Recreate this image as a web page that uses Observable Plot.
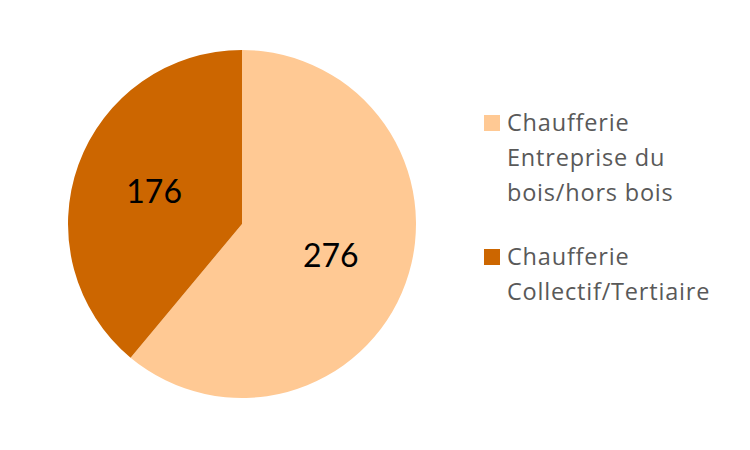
<!DOCTYPE html>
<html>
<head>
<meta charset="utf-8">
<script src="https://cdn.jsdelivr.net/npm/d3@7"></script>
<script src="https://cdn.jsdelivr.net/npm/@observablehq/plot@0.6"></script>
<style>
  html, body { margin: 0; padding: 0; background: #fff; }
  #wrap { position: relative; width: 750px; height: 450px; font-family: Lato, "Open Sans", sans-serif; }
  #legend { position: absolute; left: 484px; top: 105px; color: #595959; font-family: "Open Sans", sans-serif; font-size: 23.5px; letter-spacing: 0.8px; line-height: 35px; }
  .item { display: flex; align-items: flex-start; margin-bottom: 29px; }
  .sw { width: 16px; height: 16px; margin-top: 10px; margin-right: 7px; flex: none; }
</style>
</head>
<body>
<div id="wrap"></div>
<script>
const categories = ["Chaufferie Entreprise du bois/hors bois", "Chaufferie Collectif/Tertiaire"];
const values = [276, 176];
const colors = ["#FFC994", "#CC6600"];
const legendLines = [["Chaufferie", "Entreprise du", "bois/hors bois"], ["Chaufferie", "Collectif/Tertiaire"]];

const data = categories.map((c, i) => ({category: c, value: values[i]}));
const arcs = d3.pie().sort(null).value(d => d.value)(data);
const color = d3.scaleOrdinal(categories, colors);
const labelR = 0.54;

function pieMark(index, scales) {
  const cx = scales.x(0), cy = scales.y(0), r = scales.x(1) - scales.x(0);
  const g = d3.create("svg:g").attr("transform", `translate(${cx},${cy})`);
  g.selectAll("path").data(arcs).join("path")
    .attr("d", d3.arc().innerRadius(0).outerRadius(r))
    .attr("fill", d => color(d.data.category));
  return g.node();
}

const mid = d => (d.startAngle + d.endAngle) / 2;

const plot = Plot.plot({
  width: 750,
  height: 450,
  margin: 0,
  x: {domain: [-1, 1], range: [68, 416], axis: null},
  y: {domain: [-1, 1], range: [398, 50], axis: null},
  marks: [
    pieMark,
    Plot.text(arcs, {
      x: d => labelR * Math.sin(mid(d)),
      y: d => labelR * Math.cos(mid(d)),
      text: d => String(d.data.value),
      fill: "#000",
      fontSize: 32,
      fontFamily: "Lato, 'Open Sans', sans-serif"
    })
  ]
});

const wrap = document.getElementById("wrap");
wrap.appendChild(plot);

const legend = document.createElement("div");
legend.id = "legend";
categories.forEach((c, i) => {
  const item = document.createElement("div");
  item.className = "item";
  const sw = document.createElement("div");
  sw.className = "sw";
  sw.style.background = color(c);
  const txt = document.createElement("div");
  txt.innerHTML = legendLines[i].join("<br>");
  item.appendChild(sw);
  item.appendChild(txt);
  legend.appendChild(item);
});
wrap.appendChild(legend);
</script>
</body>
</html>
